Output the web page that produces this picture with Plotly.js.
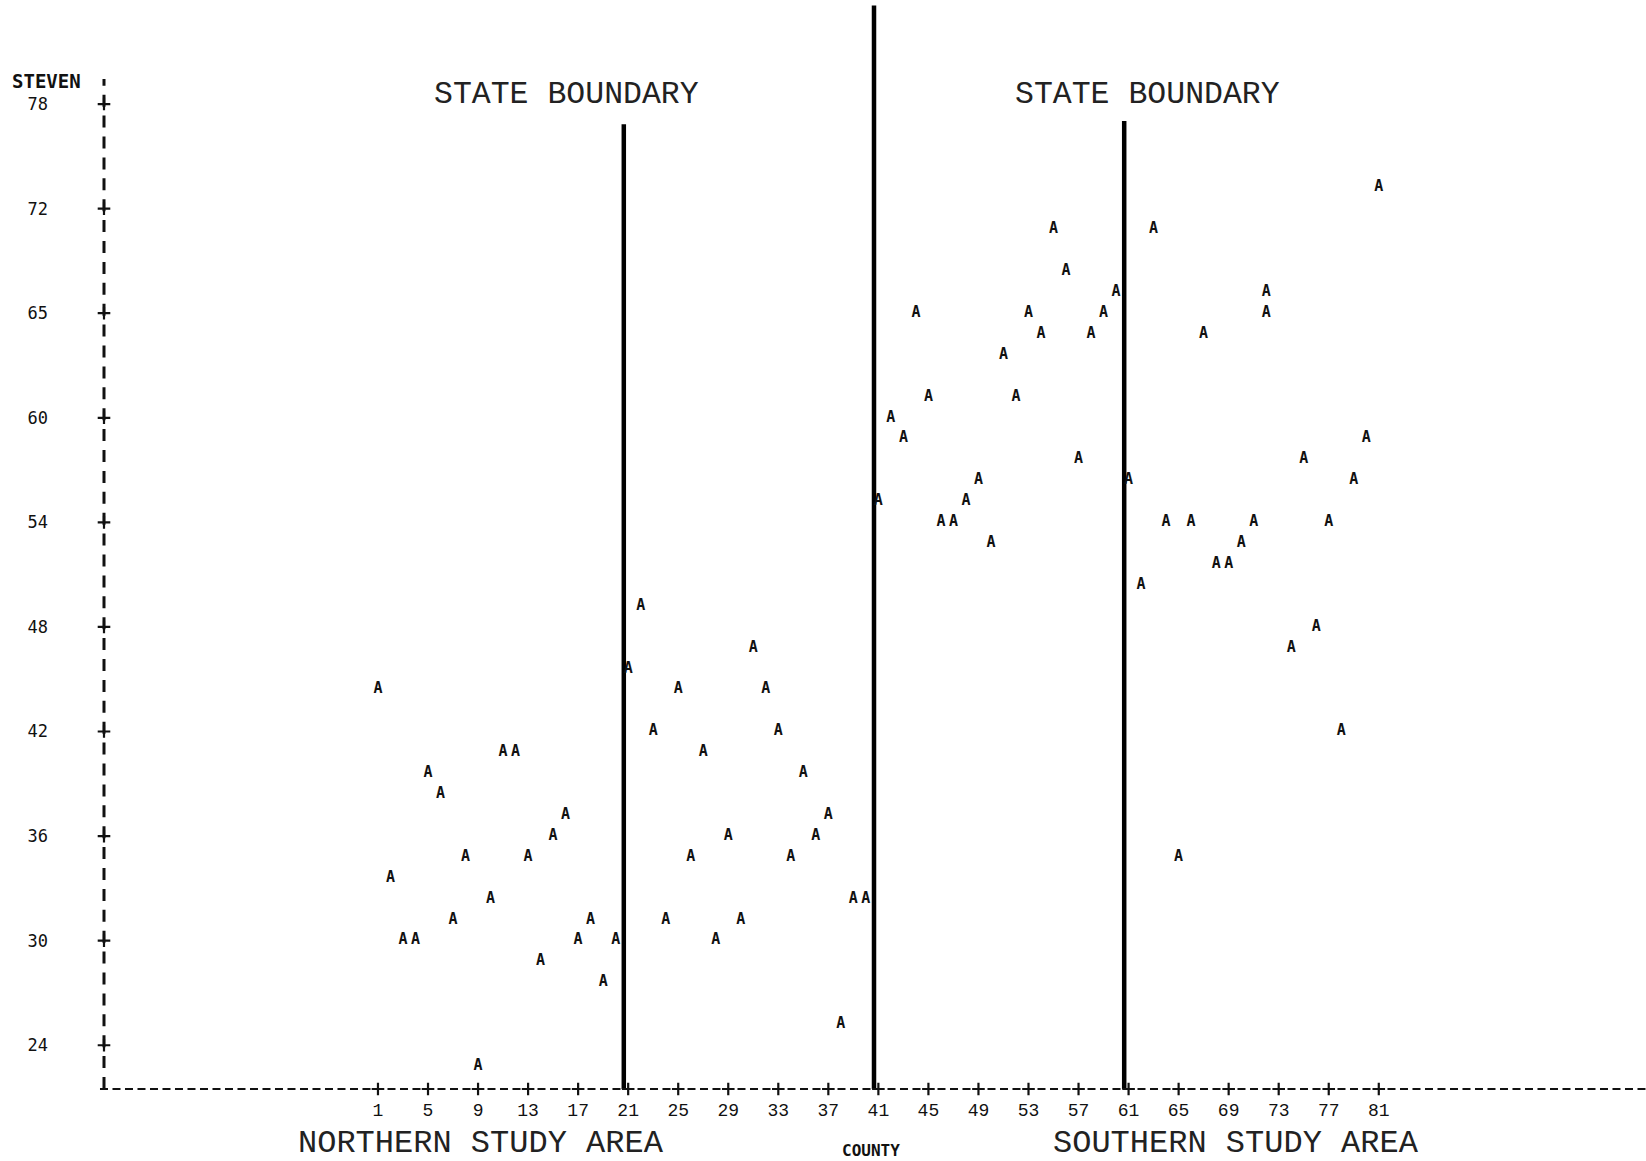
<!DOCTYPE html>
<html>
<head>
<meta charset="utf-8">
<script src="https://cdn.plot.ly/plotly-3.0.1.min.js"></script>
<style>html,body{margin:0;padding:0;background:#fff;}#chart{width:1646px;height:1161px;}</style>
</head>
<body>
<div id="chart"></div>
<script>
// ---- data ----
const northCounty = [1,2,3,4,5,6,7,8,9,10,11,12,13,14,15,16,17,18,19,20,21,22,23,24,25,26,27,28,29,30,31,32,33,34,35,36,37,38,39,40];
const northValue  = [44.4,33.6,30,30,39.6,38.4,31.2,34.8,22.8,32.4,40.8,40.8,34.8,28.8,36,37.2,30,31.2,27.6,30,45.6,49.2,42,31.2,44.4,34.8,40.8,30,36,31.2,46.8,44.4,42,34.8,39.6,36,37.2,25.2,32.4,32.4];
const southCounty = [41,42,43,44,45,46,47,48,49,50,51,52,53,54,55,56,57,58,59,60,61,62,63,64,65,66,67,68,69,70,71,72,72,74,75,76,77,78,79,80,81];
const southValue  = [55.2,60,58.8,66,61.2,54,54,55.2,56.4,52.8,63.6,61.2,66,64.8,70.8,68.4,57.6,64.8,66,67.2,56.4,50.4,70.8,54,34.8,54,64.8,51.6,51.6,52.8,54,67.2,66,46.8,57.6,48,54,42,56.4,58.8,73.2];
const xTickVals = [1,5,9,13,17,21,25,29,33,37,41,45,49,53,57,61,65,69,73,77,81];
const xTickText = ["1","5","9","13","17","21","25","29","33","37","41","45","49","53","57","61","65","69","73","77","81"];
const yTickVals = [78,72,66,60,54,48,42,36,30,24];
const yTickText = ["78","72","65","60","54","48","42","36","30","24"];
const boundaryCounties = [21,41,61];
const boundaryTops = [0.886,0.995,0.889];
const plotSymbol = "A";

// ---- layout constants ----
const X_RANGE = [-20.90, 102.36];
const Y_RANGE = [21.49, 83.97];
const LINE_NUDGE = -0.35;

const mono = "Liberation Mono, Courier New, monospace";
const printer = "DejaVu Sans Mono, monospace";

const traces = [
  {
    x: northCounty, y: northValue, mode: "text",
    text: northCounty.map(() => plotSymbol),
    textposition: "middle center",
    textfont: {family: printer, size: 15, color: "#111", weight: "bold"},
    hoverinfo: "x+y", cliponaxis: false, showlegend: false
  },
  {
    x: southCounty, y: southValue, mode: "text",
    text: southCounty.map(() => plotSymbol),
    textposition: "middle center",
    textfont: {family: printer, size: 15, color: "#111", weight: "bold"},
    hoverinfo: "x+y", cliponaxis: false, showlegend: false
  },
  {
    x: xTickVals, y: xTickVals.map(() => Y_RANGE[0]), mode: "markers",
    marker: {symbol: "cross-thin", size: 9, line: {width: 2.2, color: "#111"}},
    hoverinfo: "skip", cliponaxis: false, showlegend: false
  },
  {
    x: yTickVals.map(() => X_RANGE[0]), y: yTickVals, mode: "markers",
    marker: {symbol: "cross-thin", size: 9, line: {width: 2.2, color: "#111"}},
    hoverinfo: "skip", cliponaxis: false, showlegend: false
  }
];

const shapes = [
  {type: "line", xref: "paper", yref: "paper", x0: -0.0026, x1: 1, y0: 0, y1: 0, layer: "below",
   line: {color: "#111", width: 2, dash: "8px,4.5px"}},
  {type: "line", xref: "paper", yref: "paper", x0: 0, x1: 0, y0: 0, y1: 0.9275, layer: "below",
   line: {color: "#111", width: 3, dash: "12px,8.9px"}}
];
boundaryCounties.forEach((c, i) => {
  shapes.push({type: "line", xref: "x", yref: "paper", x0: c + LINE_NUDGE, x1: c + LINE_NUDGE,
    y0: 0, y1: boundaryTops[i], layer: "below",
    line: {color: "#000", width: 4.5}});
});

const annotations = [
  {text: "STATE BOUNDARY", xref: "x", yref: "paper", x: 16.1, y: 0.9132, showarrow: false,
   font: {family: mono, size: 31.5, color: "#222"}, xanchor: "center", yanchor: "middle"},
  {text: "STATE BOUNDARY", xref: "x", yref: "paper", x: 62.55, y: 0.9132, showarrow: false,
   font: {family: mono, size: 31.5, color: "#222"}, xanchor: "center", yanchor: "middle"},
  {text: "NORTHERN STUDY AREA", xref: "paper", yref: "paper", x: 0.2445, y: -0.0496, showarrow: false,
   font: {family: mono, size: 32, color: "#222"}, xanchor: "center", yanchor: "middle"},
  {text: "SOUTHERN STUDY AREA", xref: "paper", yref: "paper", x: 0.7341, y: -0.0496, showarrow: false,
   font: {family: mono, size: 32, color: "#222"}, xanchor: "center", yanchor: "middle"},
  {text: "COUNTY", xref: "paper", yref: "paper", x: 0.4977, y: -0.0569, showarrow: false,
   font: {family: printer, size: 16, color: "#111", weight: "bold"}, xanchor: "center", yanchor: "middle"},
  {text: "STEVEN", xref: "paper", yref: "paper", x: -0.037, y: 0.9256, showarrow: false,
   font: {family: printer, size: 19, color: "#111", weight: "bold"}, xanchor: "center", yanchor: "middle"}
];

const layout = {
  width: 1646, height: 1161,
  margin: {l: 104, r: 0, t: 0, b: 72, pad: 0},
  paper_bgcolor: "#fff", plot_bgcolor: "#fff",
  showlegend: false,
  xaxis: {
    range: X_RANGE, tickmode: "array", tickvals: xTickVals, ticktext: xTickText,
    showgrid: false, zeroline: false, showline: false, ticks: "",
    ticklabelstandoff: 8,
    tickfont: {family: mono, size: 18, color: "#111"}, fixedrange: true
  },
  yaxis: {
    range: Y_RANGE, tickmode: "array", tickvals: yTickVals, ticktext: yTickText,
    showgrid: false, zeroline: false, showline: false, ticks: "",
    ticklabelstandoff: 55,
    tickfont: {family: printer, size: 17, color: "#111"}, fixedrange: true
  },
  shapes: shapes,
  annotations: annotations
};

Plotly.newPlot("chart", traces, layout, {displayModeBar: false, staticPlot: true});
</script>
</body>
</html>
